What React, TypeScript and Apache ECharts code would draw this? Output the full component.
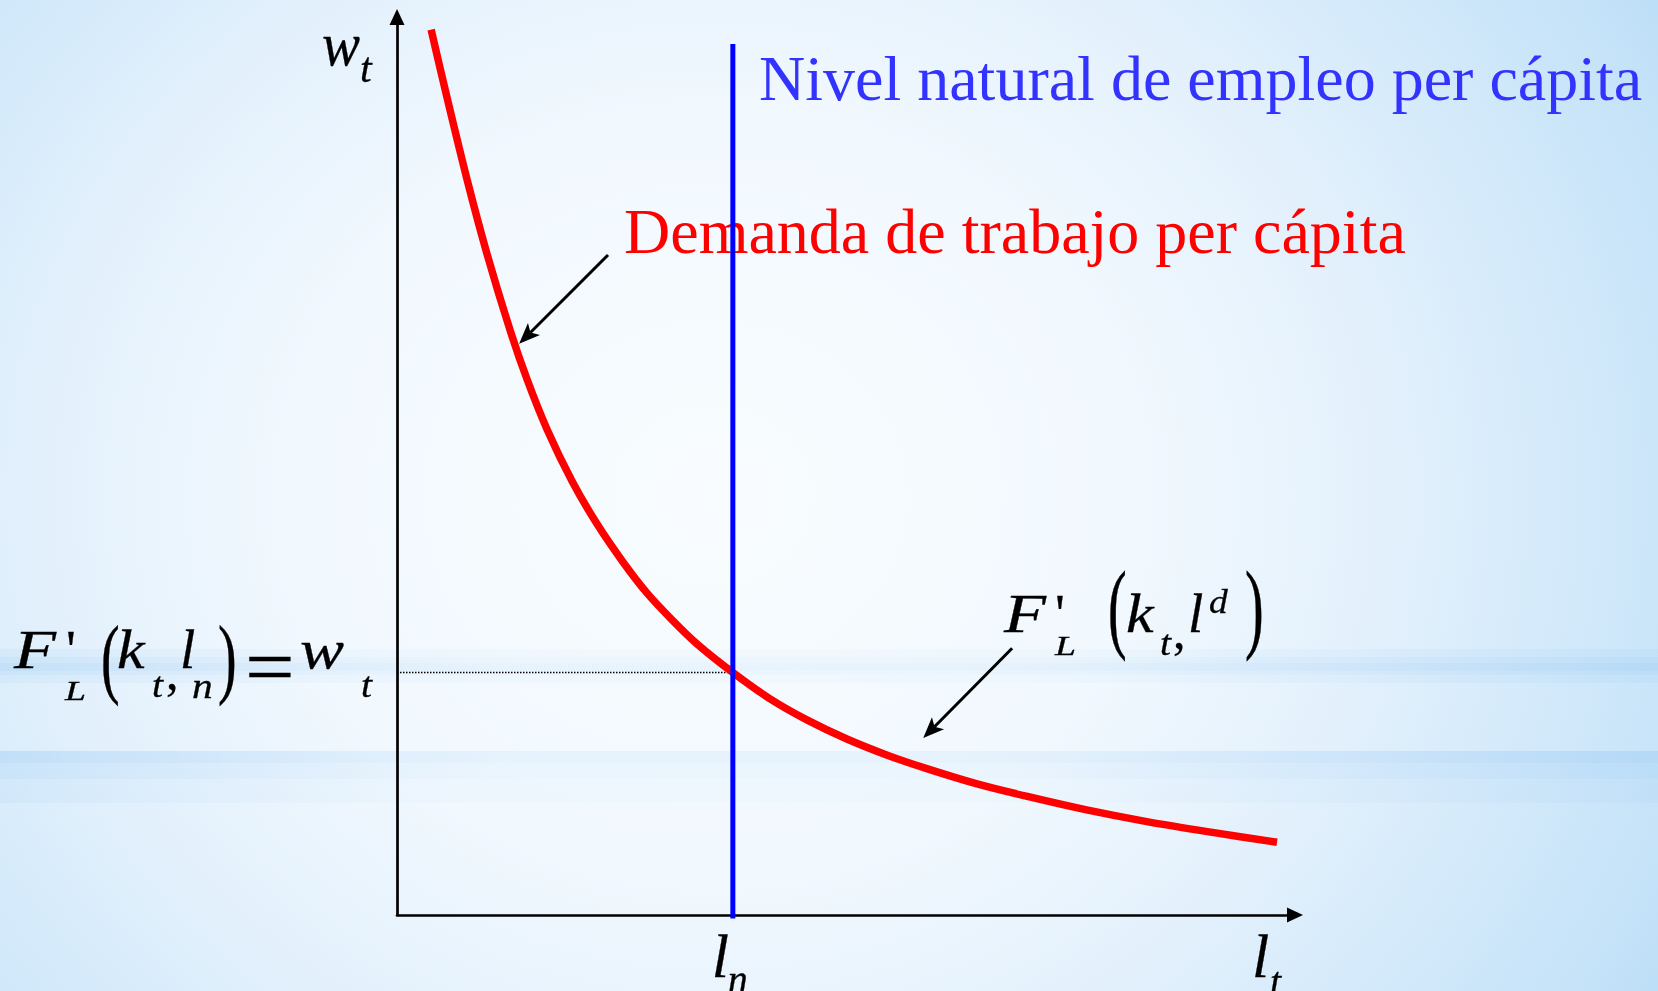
import React, { useEffect, useRef } from "react";
import * as echarts from "echarts";

// Per-capita labour demand: employment per capita (l) against the real wage (w)
const laborPerCapita = [
  0.38, 0.56, 0.78, 1.0, 1.26, 1.45, 1.67, 1.95, 2.23, 2.51, 2.78, 3.06, 3.34, 3.74, 4.15, 4.57, 5.01, 5.46, 5.9, 6.46,
  7.02, 7.68, 8.35, 9.08, 9.8,
];
const wageDemanded = [
  9.86, 9.09, 8.19, 7.37, 6.51, 5.96, 5.41, 4.83, 4.35, 3.94, 3.59, 3.29, 3.02, 2.7, 2.41, 2.17, 1.96, 1.78, 1.63, 1.46,
  1.32, 1.17, 1.04, 0.92, 0.81,
];

// Natural level of employment and the wage it implies on the demand curve
const naturalEmployment = 3.74;
const equilibriumWage = 2.7;
const naturalLineSpan = [-0.04, 9.7];

const axisMin = 0;
const axisMax = 10;

// Pointer arrows [tail, head] in data coordinates
const demandArrow = [[2.35, 7.35], [1.36, 6.36]];
const derivativeArrow = [[6.85, 2.97], [5.86, 1.97]];

const demandLabel = "Demanda de trabajo per cápita";
const naturalLabel = "Nivel natural de empleo per cápita";

const WIDTH = 1658;
const HEIGHT = 991;
const SERIF = '"Liberation Serif", "Times New Roman", "DejaVu Serif", serif';
// distance (in em) from the alphabetic baseline up to the "central" baseline
const CENTRAL = 0.3375;

type Piece = { t: string; x: number; base: number; size: number; upright?: boolean; sy?: number; sx?: number };

function mathText(pieces: Piece[], color = "#000"): any[] {
  return pieces.map((p) => {
    const sy = p.sy ?? 1;
    return {
      type: "text",
      silent: true,
      z: 1,
      x: p.x,
      y: p.base - CENTRAL * p.size * sy,
      scaleX: p.sx ?? 1,
      scaleY: sy,
      style: {
        text: p.t,
        fill: color,
        stroke: color,
        lineWidth: 0.3,
        fontFamily: SERIF,
        fontSize: p.size,
        fontStyle: p.upright ? "normal" : "italic",
        align: "left",
        verticalAlign: "middle",
      },
    };
  });
}

function arrow(chart: any, from: number[], to: number[]): any[] {
  const [x1, y1] = chart.convertToPixel({ gridIndex: 0 }, from);
  const [x2, y2] = chart.convertToPixel({ gridIndex: 0 }, to);
  const ang = Math.atan2(y2 - y1, x2 - x1);
  const c = Math.cos(ang);
  const s = Math.sin(ang);
  const len = 21;
  const half = 8.5;
  const notch = 5;
  const bx = x2 - len * c;
  const by = y2 - len * s;
  const nx = -s;
  const ny = c;
  return [
    {
      type: "line",
      silent: true,
      z: 1,
      shape: { x1, y1, x2: x2 - (len - notch) * c, y2: y2 - (len - notch) * s },
      style: { stroke: "#000", lineWidth: 3 },
    },
    {
      type: "polygon",
      silent: true,
      z: 1,
      shape: {
        points: [
          [x2, y2],
          [bx + half * nx, by + half * ny],
          [x2 - (len - notch) * c, y2 - (len - notch) * s],
          [bx - half * nx, by - half * ny],
        ],
      },
      style: { fill: "#000" },
    },
  ];
}

function bandFill(a: number) {
  return new echarts.graphic.LinearGradient(0, 0, 1, 0, [
    { offset: 0, color: `rgba(140,195,240,${a})` },
    { offset: 0.3, color: `rgba(140,195,240,${a * 0.35})` },
    { offset: 0.6, color: `rgba(140,195,240,${a * 0.35})` },
    { offset: 1, color: `rgba(140,195,240,${a})` },
  ]);
}

// [top, height, alpha] strips stacked into a soft horizontal streak
function streak(layers: [number, number, number][]): any[] {
  return layers.map(([top, h, a]) => ({
    type: "rect",
    silent: true,
    z: -9,
    shape: { x: 0, y: top, width: WIDTH, height: h },
    style: { fill: bandFill(a) },
  }));
}

function axisCommon() {
  return {
    type: "value",
    min: axisMin,
    max: axisMax,
    axisLine: {
      show: true,
      onZero: false,
      symbol: ["none", "triangle"],
      symbolSize: [15, 16],
      lineStyle: { color: "#000", width: 2.7 },
    },
    axisTick: { show: false },
    axisLabel: { show: false },
    splitLine: { show: false },
  };
}

export default function App() {
  const ref = useRef<HTMLDivElement>(null);

  useEffect(() => {
    if (!ref.current) return;
    const chart = echarts.init(ref.current, null, { renderer: "svg", width: WIDTH, height: HEIGHT });

    chart.setOption({
      animation: false,
      grid: { left: 397, top: 17, width: 898, height: 898 },
      xAxis: axisCommon(),
      yAxis: axisCommon(),
      series: [
        {
          type: "line",
          name: demandLabel,
          data: laborPerCapita.map((l, i) => [l, wageDemanded[i]]),
          smooth: 0.3,
          symbol: "none",
          lineStyle: { color: "#ff0000", width: 7.5, cap: "butt", join: "round" },
          z: 3,
        },
        {
          type: "line",
          name: "guide",
          data: [
            [axisMin, equilibriumWage],
            [naturalEmployment, equilibriumWage],
            [naturalEmployment, axisMin],
          ],
          symbol: "none",
          lineStyle: { color: "#000", width: 1.5, type: "dotted" },
          z: 2,
        },
        {
          type: "line",
          name: naturalLabel,
          data: naturalLineSpan.map((w) => [naturalEmployment, w]),
          clip: false,
          symbol: "none",
          lineStyle: { color: "#0000ff", width: 5 },
          z: 5,
        },
      ],
    });

    const [lnX] = chart.convertToPixel({ gridIndex: 0 }, [naturalEmployment, 0]) as number[];
    const [, wY] = chart.convertToPixel({ gridIndex: 0 }, [0, equilibriumWage]) as number[];
    const [, axisY] = chart.convertToPixel({ gridIndex: 0 }, [0, 0]) as number[];
    const [endX] = chart.convertToPixel({ gridIndex: 0 }, [axisMax, 0]) as number[];

    const lb = wY - 4.5; // baseline of the equilibrium formula
    const rb = 632; // baseline of the marginal product formula
    const xb = axisY + 62; // baseline of the x-axis symbols

    const graphic: any[] = [
      {
        type: "rect",
        silent: true,
        z: -10,
        shape: { x: 0, y: -250, width: WIDTH, height: HEIGHT + 500 },
        style: {
          fill: new echarts.graphic.RadialGradient(0.43, 0.5, 0.75, [
            { offset: 0, color: "#f8fcff" },
            { offset: 0.35, color: "#f1f8fe" },
            { offset: 0.55, color: "#e2f0fc" },
            { offset: 0.7, color: "#d2e9fa" },
            { offset: 0.85, color: "#c2e1f8" },
            { offset: 1, color: "#a8d6f4" },
          ]),
        },
      },
      ...streak([
        [649, 34, 0.12],
        [657, 18, 0.12],
        [663, 8, 0.12],
      ]),
      ...streak([
        [751, 52, 0.1],
        [751, 28, 0.12],
        [751, 12, 0.14],
      ]),
      {
        type: "text",
        silent: true,
        z: 1,
        x: 759,
        y: 100 - CENTRAL * 64,
        style: { text: naturalLabel, fontFamily: SERIF, fontSize: 64, fill: "#3333ff", verticalAlign: "middle" },
      },
      {
        type: "text",
        silent: true,
        z: 1,
        x: 624,
        y: 253 - CENTRAL * 64,
        style: { text: demandLabel, fontFamily: SERIF, fontSize: 64, fill: "#ff0000", verticalAlign: "middle" },
      },
      // w_t on the vertical axis
      ...mathText([
        { t: "w", x: 322, base: 65, size: 62, sx: 0.92 },
        { t: "t", x: 360, base: 82, size: 42 },
      ]),
      // l_n under the natural employment line
      ...mathText([
        { t: "l", x: lnX - 21, base: xb, size: 62 },
        { t: "n", x: lnX - 5, base: xb + 16, size: 40 },
      ]),
      // l_t at the end of the horizontal axis
      ...mathText([
        { t: "l", x: endX - 43, base: xb, size: 62 },
        { t: "t", x: endX - 25, base: xb + 18, size: 40 },
      ]),
      // F'_L(k_t, l_n) = w_t
      ...mathText([
        { t: "F", x: 14, base: lb, size: 55, sx: 1.25 },
        { t: "'", x: 66, base: lb, size: 55, upright: true },
        { t: "L", x: 65, base: lb + 32, size: 27, sx: 1.4 },
        { t: "(", x: 101, base: lb + 19, size: 56, upright: true, sy: 1.59 },
        { t: "k", x: 117, base: lb, size: 55, sx: 1.13 },
        { t: "t", x: 152, base: lb + 29, size: 36, sx: 1.1 },
        { t: ",", x: 166, base: lb + 21, size: 50, upright: true },
        { t: "l", x: 180, base: lb, size: 55 },
        { t: "n", x: 192, base: lb + 30, size: 36, sx: 1.15 },
        { t: ")", x: 218, base: lb + 19, size: 56, upright: true, sy: 1.59 },
        { t: "=", x: 245, base: lb + 26, size: 80, upright: true, sx: 1.1 },
        { t: "w", x: 300, base: lb, size: 55, sx: 1.2 },
        { t: "t", x: 361, base: lb + 29, size: 36, sx: 1.1 },
      ]),
      // F'_L(k_t, l^d)
      ...mathText([
        { t: "F", x: 1004, base: rb, size: 55, sx: 1.25 },
        { t: "'", x: 1055, base: rb, size: 55, upright: true },
        { t: "L", x: 1055, base: rb + 23, size: 27, sx: 1.4 },
        { t: "(", x: 1108, base: rb + 8, size: 56, upright: true, sy: 1.76 },
        { t: "k", x: 1126, base: rb, size: 55, sx: 1.13 },
        { t: "t", x: 1160, base: rb + 23, size: 36, sx: 1.1 },
        { t: ",", x: 1173, base: rb + 16, size: 50, upright: true },
        { t: "l", x: 1188, base: rb, size: 55 },
        { t: "d", x: 1209, base: rb - 19, size: 34, sx: 1.1 },
        { t: ")", x: 1245, base: rb + 8, size: 56, upright: true, sy: 1.76 },
      ]),
      ...arrow(chart, demandArrow[0], demandArrow[1]),
      ...arrow(chart, derivativeArrow[0], derivativeArrow[1]),
    ];

    chart.setOption({ graphic });

    return () => {
      chart.dispose();
    };
  }, []);

  return (
    <div
      ref={ref}
      style={{ position: "fixed", left: 0, top: 0, width: WIDTH, height: HEIGHT }}
    />
  );
}
